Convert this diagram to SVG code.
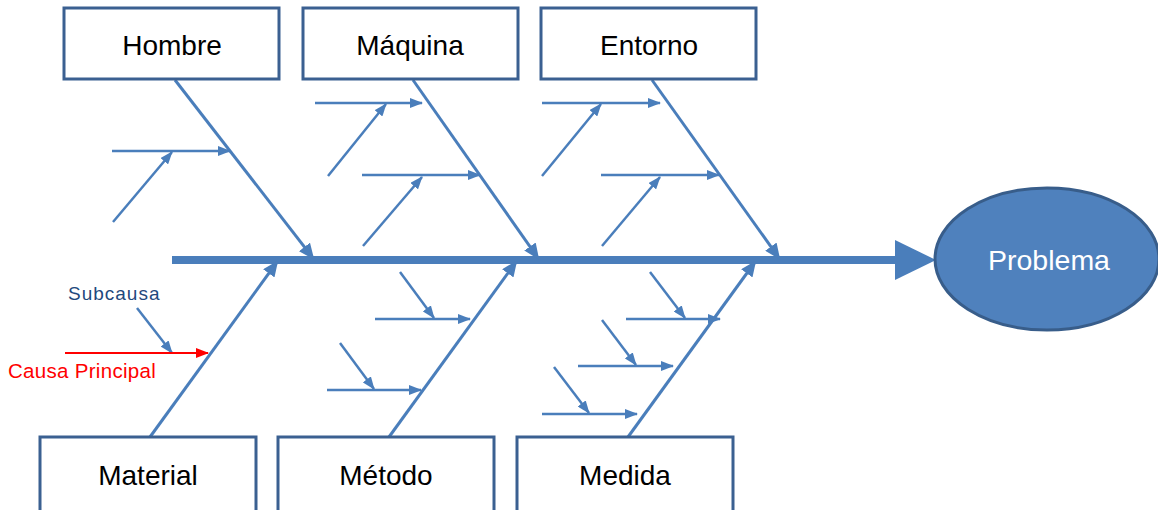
<svg xmlns="http://www.w3.org/2000/svg" width="1158" height="510" viewBox="0 0 1158 510">
<style>
.box{fill:#fff;stroke:#3b6091;stroke-width:3}
.lbl{font-family:"Liberation Sans",Arial,sans-serif;font-size:28px;fill:#000;text-anchor:middle}
.bone{stroke:#4a7ebb;stroke-width:3;fill:none}
.sub{stroke:#4a7ebb;stroke-width:2.5;fill:none}
</style>
<defs>
<marker id="ah" markerUnits="userSpaceOnUse" markerWidth="16" markerHeight="14" refX="14" refY="7" orient="auto"><path d="M0,0 L16,7 L0,14 Z" fill="#4a7ebb"/></marker>
<marker id="as" markerUnits="userSpaceOnUse" markerWidth="13" markerHeight="10" refX="12" refY="5" orient="auto"><path d="M0,0 L13,5 L0,10 Z" fill="#4a7ebb"/></marker>
<marker id="ar" markerUnits="userSpaceOnUse" markerWidth="13" markerHeight="10" refX="12" refY="5" orient="auto"><path d="M0,0 L13,5 L0,10 Z" fill="#ff0000"/></marker>
</defs>
<g id="connectors">
<line x1="172" y1="260" x2="900" y2="260" stroke="#4a7ebb" stroke-width="8"/>
<path d="M895,240 L936,260 L895,280 Z" fill="#4a7ebb"/>
<line class="bone" x1="175" y1="80" x2="313" y2="258" marker-end="url(#ah)"/>
<line class="bone" x1="413" y1="80" x2="538" y2="258" marker-end="url(#ah)"/>
<line class="bone" x1="652" y1="80" x2="779" y2="258" marker-end="url(#ah)"/>
<line class="bone" x1="150" y1="437" x2="277" y2="262" marker-end="url(#ah)"/>
<line class="bone" x1="389" y1="437" x2="516" y2="262" marker-end="url(#ah)"/>
<line class="bone" x1="628" y1="437" x2="755" y2="262" marker-end="url(#ah)"/>
<line class="sub" x1="112" y1="151" x2="230" y2="151" marker-end="url(#as)"/>
<line class="sub" x1="113" y1="222" x2="172" y2="152" marker-end="url(#as)"/>
<line class="sub" x1="315" y1="103" x2="422" y2="103" marker-end="url(#as)"/>
<line class="sub" x1="328" y1="176" x2="386" y2="104" marker-end="url(#as)"/>
<line class="sub" x1="362" y1="175" x2="480" y2="175" marker-end="url(#as)"/>
<line class="sub" x1="363" y1="246" x2="422" y2="177" marker-end="url(#as)"/>
<line class="sub" x1="542" y1="103" x2="660" y2="103" marker-end="url(#as)"/>
<line class="sub" x1="542" y1="176" x2="601" y2="104" marker-end="url(#as)"/>
<line class="sub" x1="601" y1="175" x2="719" y2="175" marker-end="url(#as)"/>
<line class="sub" x1="602" y1="246" x2="660" y2="177" marker-end="url(#as)"/>
<line class="sub" x1="400" y1="272" x2="434" y2="318" marker-end="url(#as)"/>
<line class="sub" x1="375" y1="319" x2="470" y2="319" marker-end="url(#as)"/>
<line class="sub" x1="340" y1="343" x2="374" y2="389" marker-end="url(#as)"/>
<line class="sub" x1="327" y1="390" x2="421" y2="390" marker-end="url(#as)"/>
<line class="sub" x1="650" y1="272" x2="685" y2="318" marker-end="url(#as)"/>
<line class="sub" x1="626" y1="319" x2="720" y2="319" marker-end="url(#as)"/>
<line class="sub" x1="602" y1="320" x2="636" y2="365" marker-end="url(#as)"/>
<line class="sub" x1="578" y1="366" x2="673" y2="366" marker-end="url(#as)"/>
<line class="sub" x1="554" y1="367" x2="589" y2="413" marker-end="url(#as)"/>
<line class="sub" x1="542" y1="414" x2="637" y2="414" marker-end="url(#as)"/>
<line class="sub" x1="137" y1="308" x2="172" y2="353" marker-end="url(#as)"/>
<line x1="65" y1="353" x2="208" y2="353" stroke="#ff0000" stroke-width="2" marker-end="url(#ar)"/>
</g>
<g id="hombre"><rect class="box" x="64" y="8" width="215" height="71"/><text class="lbl" x="172" y="55">Hombre</text></g>
<g id="maquina"><rect class="box" x="303" y="8" width="215" height="71"/><text class="lbl" x="410" y="55">Máquina</text></g>
<g id="entorno"><rect class="box" x="541" y="8" width="215" height="71"/><text class="lbl" x="649" y="55">Entorno</text></g>
<g id="material"><rect class="box" x="40" y="437" width="216" height="80"/><text class="lbl" x="148" y="485">Material</text></g>
<g id="metodo"><rect class="box" x="278" y="437" width="216" height="80"/><text class="lbl" x="386" y="485">Método</text></g>
<g id="medida"><rect class="box" x="517" y="437" width="216" height="80"/><text class="lbl" x="625" y="485">Medida</text></g>
<g id="problema"><ellipse cx="1047" cy="259" rx="112" ry="71" fill="#4f81bd" stroke="#385d8a" stroke-width="3"/><text x="1049" y="270" font-family="Liberation Sans, Arial, sans-serif" font-size="28.5" fill="#fff" text-anchor="middle">Problema</text></g>
<g id="legend">
<text x="68" y="300" font-family="Liberation Sans, Arial, sans-serif" font-size="19" letter-spacing="1" fill="#1f497d">Subcausa</text>
<text x="8" y="378" font-family="Liberation Sans, Arial, sans-serif" font-size="20.5" letter-spacing="0.3" fill="#ff0000">Causa Principal</text>
</g>
</svg>
